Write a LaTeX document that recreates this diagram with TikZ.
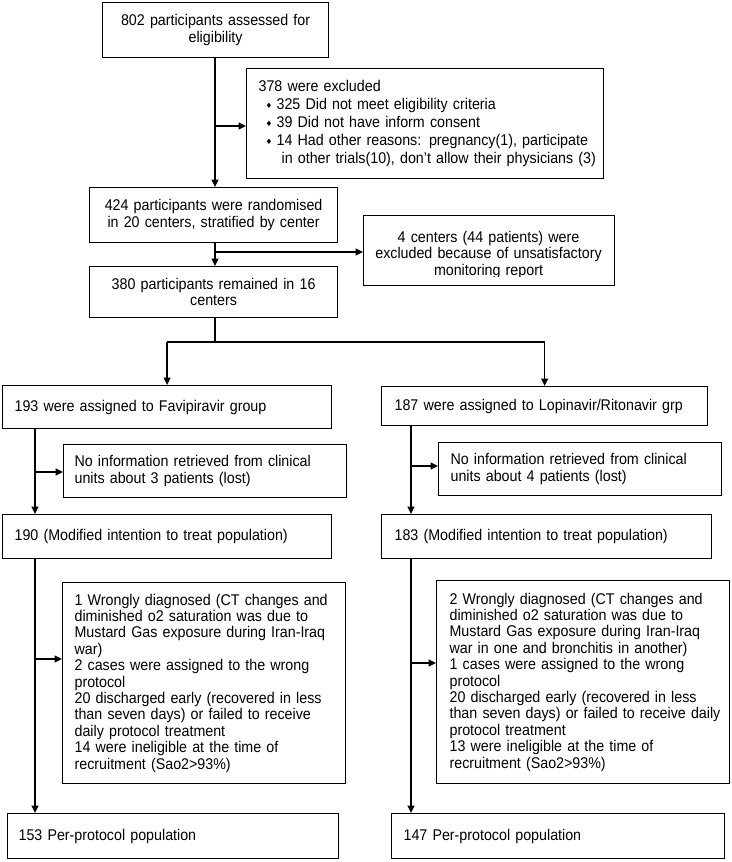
\documentclass[tikz,border=0pt]{standalone}
\usepackage{fontspec}
\setmainfont{Liberation Sans}[FakeStretch=0.92]
\newfontfamily\symfont{DejaVu Sans}
\usetikzlibrary{arrows.meta,calc}
\newcommand{\bul}{\makebox[18pt][l]{\hspace{7pt}\raisebox{1pt}{\symfont\fontsize{7.5pt}{7.5pt}\selectfont ♦}}}
\begin{document}
\begin{tikzpicture}[x=1pt,y=-1pt,
  txt/.style={font=\fontsize{15.5pt}{16.4pt}\selectfont},
  box/.style={txt, draw, line width=1.2pt, rectangle, anchor=north west, inner ysep=0pt},
  arr/.style={line width=1.3pt, -{Triangle[length=7.5pt,width=7pt]}},
  conn/.style={line width=1.3pt}]
\useasboundingbox (0,0) rectangle (731,862);

% top part
\node[box, minimum height=55pt, text width=206pt, inner xsep=10pt, align=center] (b1) at (102,2)
  {802 participants assessed for\\eligibility};
\node[box, minimum height=110pt, text width=341pt, inner xsep=8pt, align=left,
      font=\fontsize{15.5pt}{18pt}\selectfont] (excl) at (246,68)
  {\leftskip=4pt 378 were excluded\\
   \bul 325 Did not meet eligibility criteria\\
   \bul 39 Did not have inform consent\\
   \bul 14 Had other reasons: pregnancy(1), participate\\
   \hspace*{27pt}\mbox{in other trials(10), don't allow their physicians (3)}};
\node[box, minimum height=55pt, text width=228pt, inner xsep=10pt, align=center] (b2) at (89,187)
  {424 participants were randomised\\in 20 centers, stratified by center};
\node[box, minimum width=251pt, minimum height=70pt] (exc2) at (363,215) {};
\begin{scope}
  \clip (363,215) rectangle (614,276);
  \node[txt, text width=231pt, inner sep=0pt, align=center, anchor=base] (exc2t) at (488.5,242.5)
    {4 centers (44 patients) were\\excluded because of unsatisfactory\\monitoring report};
\end{scope}
\node[box, minimum height=51pt, text width=228pt, inner xsep=10pt, align=center] (b3) at (89,266)
  {380 participants remained in 16\\centers};

% left column
\node[box, minimum height=43pt, text width=305pt, inner xsep=12pt, align=left] (L1) at (2,385)
  {193 were assigned to Favipiravir group};
\node[box, minimum height=53pt, text width=261pt, inner xsep=11pt, align=left] (Llost) at (63,444)
  {No information retrieved from clinical\\units about 3 patients (lost)};
\node[box, minimum height=44pt, text width=305pt, inner xsep=12pt, align=left] (L2) at (2,514)
  {190 (Modified intention to treat population)};
\node[box, minimum height=201pt, text width=259pt, inner xsep=12pt, align=left] (Lbig) at (62,582)
  {1 Wrongly diagnosed (CT changes and\\
   diminished o2 saturation was due to\\
   \mbox{Mustard Gas exposure during Iran-Iraq}\\
   war)\\
   2 cases were assigned to the wrong\\
   protocol\\
   \mbox{20 discharged early (recovered in less}\\
   than seven days) or failed to receive\\
   daily protocol treatment\\
   14 were ineligible at the time of\\
   recruitment (Sao2>93\%)};
\node[box, minimum height=45pt, text width=309pt, inner xsep=11pt, align=left] (L3) at (7,813)
  {153 Per-protocol population};

% right column
\node[box, minimum height=39pt, text width=300pt, inner xsep=13pt, align=left] (R1) at (381,386)
  {187 were assigned to Lopinavir/Ritonavir grp};
\node[box, minimum height=53pt, text width=259pt, inner xsep=12pt, align=left] (Rlost) at (438,442)
  {No information retrieved from clinical\\units about 4 patients (lost)};
\node[box, minimum height=44pt, text width=304pt, inner xsep=13pt, align=left] (R2) at (381,514)
  {183 (Modified intention to treat population)};
\node[box, minimum height=203pt, text width=267pt, inner xsep=13pt, align=left] (Rbig) at (436,580)
  {2 Wrongly diagnosed (CT changes and\\
   diminished o2 saturation was due to\\
   \mbox{Mustard Gas exposure during Iran-Iraq}\\
   \mbox{war in one and bronchitis in another)}\\
   1 cases were assigned to the wrong\\
   protocol\\
   \mbox{20 discharged early (recovered in less}\\
   \mbox{than seven days) or failed to receive daily}\\
   protocol treatment\\
   13 were ineligible at the time of\\
   recruitment (Sao2>93\%)};
\node[box, minimum height=45pt, text width=309pt, inner xsep=12pt, align=left] (R3) at (391,813)
  {147 Per-protocol population};

% connectors, top
\coordinate (j1) at (215,126);
\coordinate (j2) at (215,252);
\coordinate (split) at (215,342);
\draw[arr] (b1.south -| j1) -- (b2.north -| j1);
\draw[arr] (j1) -- (j1 -| excl.west);
\draw[arr] (b2.south -| j2) -- (b3.north -| j2);
\draw[arr] (j2) -- (j2 -| exc2.west);
\draw[conn] (b3.south -| split) -- (split);
\draw[conn] (split -| L1.north) -- (split -| R1.north);
\draw[arr] (split -| L1.north) -- (L1.north);
\draw[arr] (split -| R1.north) -- (R1.north);

% connectors, left
\coordinate (lc) at (35,0);
\coordinate (la1) at (35,472);
\coordinate (la2) at (35,659);
\draw[arr] (L1.south -| lc) -- (L2.north -| lc);
\draw[arr] (la1) -- (la1 -| Llost.west);
\draw[arr] (L2.south -| lc) -- (L3.north -| lc);
\draw[arr] (la2) -- (la2 -| Lbig.west);

% connectors, right
\coordinate (rc) at (411,0);
\coordinate (ra1) at (411,466);
\coordinate (ra2) at (411,663);
\draw[arr] (R1.south -| rc) -- (R2.north -| rc);
\draw[arr] (ra1) -- (ra1 -| Rlost.west);
\draw[arr] (R2.south -| rc) -- (R3.north -| rc);
\draw[arr] (ra2) -- (ra2 -| Rbig.west);
\end{tikzpicture}
\end{document}
